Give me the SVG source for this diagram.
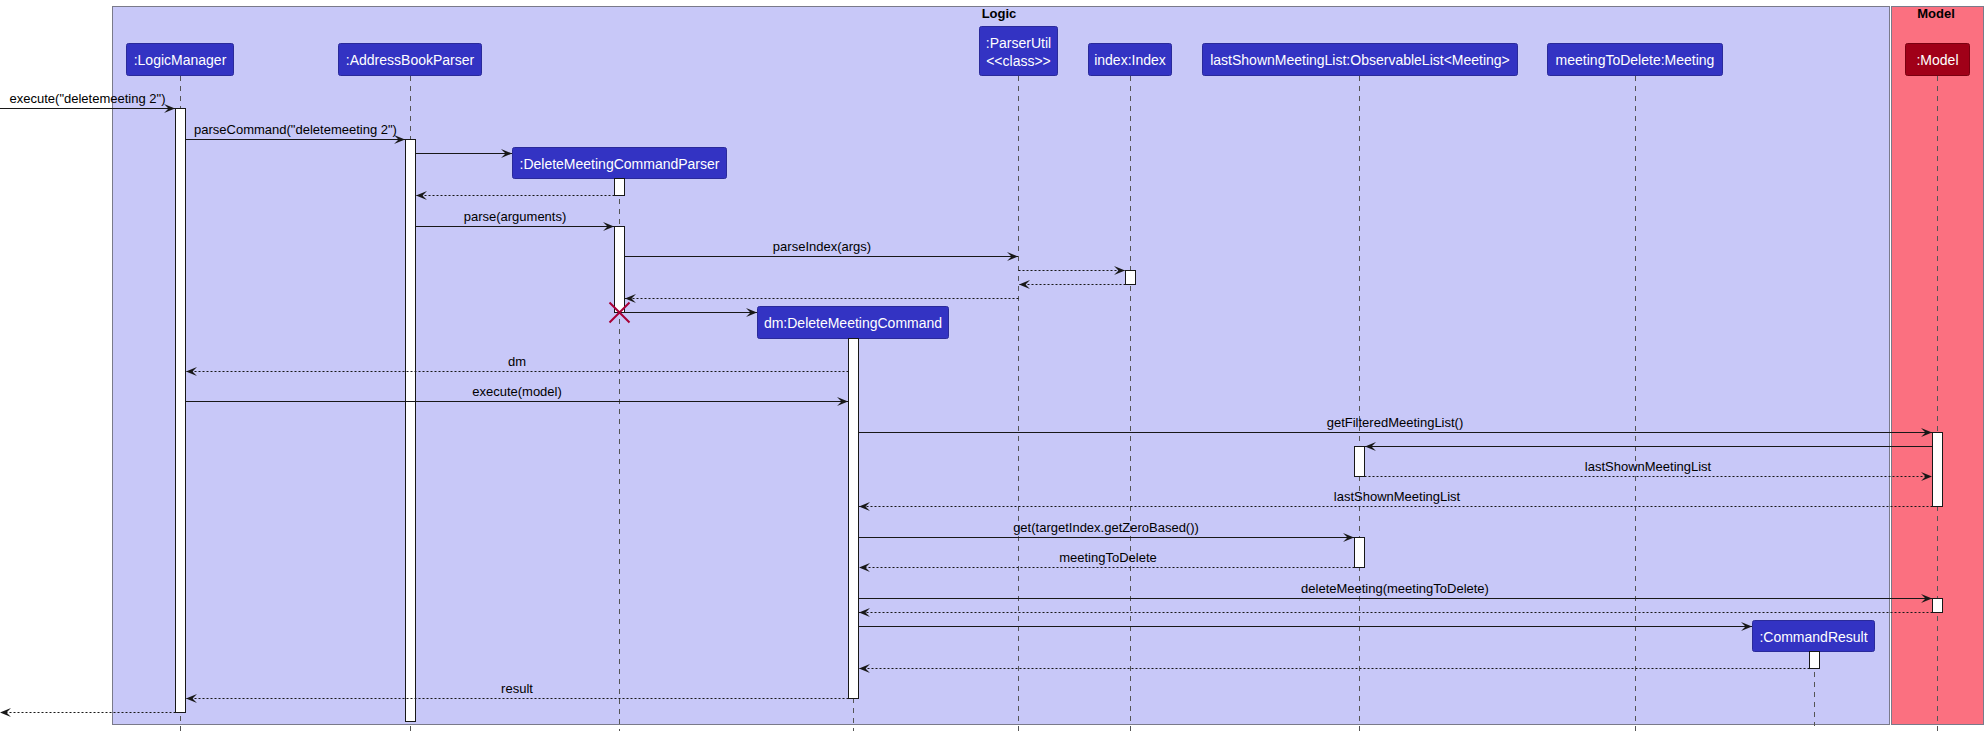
<svg xmlns="http://www.w3.org/2000/svg" width="1988" height="736" viewBox="0 0 1988 736">
<defs>
<marker id="ah" viewBox="0 0 11 9" refX="11" refY="4.5" markerWidth="11" markerHeight="9" markerUnits="userSpaceOnUse" orient="auto">
<path d="M0,0 L11,4.5 L0,9 L4.5,4.5 Z" fill="#181818"/>
</marker>
</defs>
<style>
text{font-family:"Liberation Sans",Arial,sans-serif}
.frame{stroke:#7a7a8a;stroke-width:1}
.title{font-size:13px;font-weight:bold;fill:#000;text-anchor:middle}
.box{fill:#3333C3;stroke:#2a2a9a;stroke-width:1}
.mbox{fill:#A00018;stroke:#7a0010;stroke-width:1}
.bt{font-size:14px;fill:#fff;text-anchor:middle}
.life{stroke:#555;stroke-width:1;stroke-dasharray:5,5;fill:none}
.act{fill:#fff;stroke:#181818;stroke-width:1}
.msg{stroke:#181818;stroke-width:1;fill:none;marker-end:url(#ah)}
.ret{stroke:#181818;stroke-width:1;fill:none;stroke-dasharray:2,2;marker-end:url(#ah)}
.lbl{font-size:13px;fill:#000;text-anchor:middle}
</style>
<rect width="1988" height="736" fill="#fff"/>
<g id="frame-logic">
<rect class="frame" x="112.5" y="6.5" width="1777" height="718" fill="#C8C8F8"/>
<text class="title" x="999" y="18">Logic</text>
</g>
<g id="frame-model">
<rect class="frame" x="1891.5" y="6.5" width="92" height="718" fill="#FB7080"/>
<text class="title" x="1936" y="18">Model</text>
</g>
<g id="lifelines">
<line class="life" x1="180.5" y1="76" x2="180.5" y2="731"/>
<line class="life" x1="410.5" y1="76" x2="410.5" y2="731"/>
<line class="life" x1="619.5" y1="179" x2="619.5" y2="731"/>
<line class="life" x1="1018.5" y1="76" x2="1018.5" y2="731"/>
<line class="life" x1="1130.5" y1="76" x2="1130.5" y2="731"/>
<line class="life" x1="1359.5" y1="76" x2="1359.5" y2="731"/>
<line class="life" x1="1635.5" y1="76" x2="1635.5" y2="731"/>
<line class="life" x1="853.5" y1="338" x2="853.5" y2="731"/>
<line class="life" x1="1814.5" y1="652" x2="1814.5" y2="726"/>
<line class="life" x1="1937.5" y1="76" x2="1937.5" y2="731"/>
</g>
<g id="LogicManager">
<rect class="box" x="126.5" y="43.5" width="107" height="32" rx="2"/>
<text class="bt" x="180" y="65">:LogicManager</text>
<rect class="act" x="175.5" y="108.5" width="10" height="604"/>
</g>
<g id="AddressBookParser">
<rect class="box" x="338.5" y="43.5" width="143" height="32" rx="2"/>
<text class="bt" x="410" y="65">:AddressBookParser</text>
<rect class="act" x="405.5" y="139.5" width="10" height="582"/>
</g>
<g id="DeleteMeetingCommandParser">
<rect class="box" x="512.5" y="147.5" width="214" height="31" rx="2"/>
<text class="bt" x="619.5" y="169">:DeleteMeetingCommandParser</text>
<rect class="act" x="614.5" y="178.5" width="10" height="17"/>
<rect class="act" x="614.5" y="226.5" width="10" height="86"/>
<path d="M609.5,302.5 L629.5,322.5 M629.5,302.5 L609.5,322.5" stroke="#A80036" stroke-width="2" fill="none"/>
</g>
<g id="ParserUtil">
<rect class="box" x="979.5" y="26.5" width="78" height="49" rx="2"/>
<text class="bt" x="1018.5" y="48">:ParserUtil</text>
<text class="bt" x="1018.5" y="66">&lt;&lt;class&gt;&gt;</text>
</g>
<g id="index">
<rect class="box" x="1088.5" y="43.5" width="83" height="32" rx="2"/>
<text class="bt" x="1130" y="65">index:Index</text>
<rect class="act" x="1125.5" y="270.5" width="10" height="14"/>
</g>
<g id="lastShownMeetingList">
<rect class="box" x="1202.5" y="43.5" width="315" height="32" rx="2"/>
<text class="bt" x="1360" y="65">lastShownMeetingList:ObservableList&lt;Meeting&gt;</text>
<rect class="act" x="1354.5" y="446.5" width="10" height="30"/>
<rect class="act" x="1354.5" y="537.5" width="10" height="30"/>
</g>
<g id="meetingToDelete">
<rect class="box" x="1547.5" y="43.5" width="175" height="32" rx="2"/>
<text class="bt" x="1635" y="65">meetingToDelete:Meeting</text>
</g>
<g id="dm">
<rect class="box" x="757.5" y="306.5" width="191" height="32" rx="2"/>
<text class="bt" x="853" y="328">dm:DeleteMeetingCommand</text>
<rect class="act" x="848.5" y="338.5" width="10" height="360"/>
</g>
<g id="CommandResult">
<rect class="box" x="1752.5" y="620.5" width="122" height="31" rx="2"/>
<text class="bt" x="1813.5" y="642">:CommandResult</text>
<rect class="act" x="1809.5" y="651.5" width="10" height="17"/>
</g>
<g id="Model">
<rect class="mbox" x="1905.5" y="43.5" width="64" height="32" rx="2"/>
<text class="bt" x="1937.5" y="65">:Model</text>
<rect class="act" x="1932.5" y="432.5" width="10" height="74"/>
<rect class="act" x="1932.5" y="598.5" width="10" height="14"/>
</g>
<g id="connectors">
<line class="msg" x1="0" y1="108.5" x2="175" y2="108.5"/>
<text class="lbl" x="87.5" y="103">execute("deletemeeting 2")</text>
<line class="msg" x1="185.5" y1="139.5" x2="405" y2="139.5"/>
<text class="lbl" x="295.5" y="134">parseCommand("deletemeeting 2")</text>
<line class="msg" x1="415.5" y1="153.5" x2="512" y2="153.5"/>
<line class="ret" x1="614.5" y1="195.5" x2="416" y2="195.5"/>
<line class="msg" x1="415.5" y1="226.5" x2="614" y2="226.5"/>
<text class="lbl" x="515" y="221">parse(arguments)</text>
<line class="msg" x1="624.5" y1="256.5" x2="1018" y2="256.5"/>
<text class="lbl" x="822" y="251">parseIndex(args)</text>
<line class="ret" x1="1018.5" y1="270.5" x2="1125" y2="270.5"/>
<line class="ret" x1="1125.5" y1="284.5" x2="1019" y2="284.5"/>
<line class="ret" x1="1018.5" y1="298.5" x2="625" y2="298.5"/>
<line class="msg" x1="624.5" y1="312.5" x2="757" y2="312.5"/>
<line class="ret" x1="848.5" y1="371.5" x2="186" y2="371.5"/>
<text class="lbl" x="517" y="366">dm</text>
<line class="msg" x1="185.5" y1="401.5" x2="848" y2="401.5"/>
<text class="lbl" x="517" y="396">execute(model)</text>
<line class="msg" x1="858.5" y1="432.5" x2="1932" y2="432.5"/>
<text class="lbl" x="1395" y="427">getFilteredMeetingList()</text>
<line class="msg" x1="1932.5" y1="446.5" x2="1365" y2="446.5"/>
<line class="ret" x1="1364.5" y1="476.5" x2="1932" y2="476.5"/>
<text class="lbl" x="1648" y="471">lastShownMeetingList</text>
<line class="ret" x1="1932.5" y1="506.5" x2="859" y2="506.5"/>
<text class="lbl" x="1397" y="501">lastShownMeetingList</text>
<line class="msg" x1="858.5" y1="537.5" x2="1354" y2="537.5"/>
<text class="lbl" x="1106" y="532">get(targetIndex.getZeroBased())</text>
<line class="ret" x1="1354.5" y1="567.5" x2="859" y2="567.5"/>
<text class="lbl" x="1108" y="562">meetingToDelete</text>
<line class="msg" x1="858.5" y1="598.5" x2="1932" y2="598.5"/>
<text class="lbl" x="1395" y="593">deleteMeeting(meetingToDelete)</text>
<line class="ret" x1="1932.5" y1="612.5" x2="859" y2="612.5"/>
<line class="msg" x1="858.5" y1="626.5" x2="1752" y2="626.5"/>
<line class="ret" x1="1809.5" y1="668.5" x2="859" y2="668.5"/>
<line class="ret" x1="848.5" y1="698.5" x2="186" y2="698.5"/>
<text class="lbl" x="517" y="693">result</text>
<line class="ret" x1="175.5" y1="712.5" x2="0" y2="712.5"/>
</g>
</svg>
